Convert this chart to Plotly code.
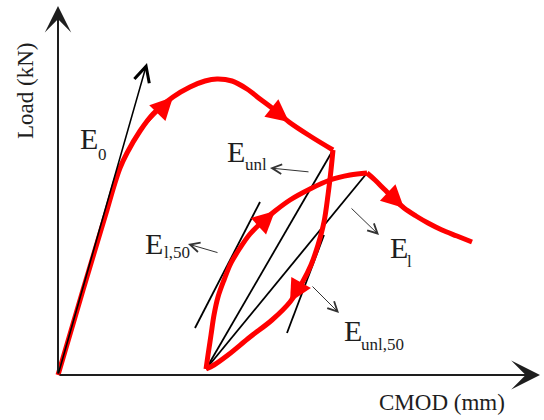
import plotly.graph_objects as go

# ---------------- data (schematic units: CMOD, Load) ----------------
# monotonic loading up to first unloading point
env_x = [0.00, 0.25, 0.49, 0.56, 0.62, 0.69, 0.82, 0.95, 1.15, 1.32, 1.47, 1.59,
         1.74, 1.89, 2.02, 2.14, 2.31, 2.52, 2.75]
env_y = [0.00, 0.85, 1.65, 1.89, 2.07, 2.22, 2.44, 2.61, 2.78, 2.88, 2.94, 2.96,
         2.94, 2.86, 2.76, 2.67, 2.53, 2.39, 2.25]
# unloading branch
unl_x = [2.75, 2.73, 2.70, 2.66, 2.60, 2.53, 2.44, 2.32, 2.14, 1.92, 1.70, 1.56, 1.48]
unl_y = [2.25, 2.05, 1.80, 1.53, 1.30, 1.10, 0.92, 0.73, 0.55, 0.38, 0.20, 0.10, 0.06]
# reloading branch
rel_x = [1.48, 1.50, 1.53, 1.56, 1.60, 1.66, 1.73, 1.82, 1.92, 2.04, 2.17, 2.32,
         2.52, 2.72, 2.92, 3.09]
rel_y = [0.06, 0.20, 0.40, 0.60, 0.78, 0.95, 1.12, 1.27, 1.41, 1.53, 1.64, 1.75,
         1.86, 1.95, 2.00, 2.02]
# post-peak softening
post_x = [3.09, 3.17, 3.26, 3.36, 3.46, 3.58, 3.70, 3.84, 3.99, 4.14]
post_y = [2.02, 1.95, 1.86, 1.76, 1.67, 1.59, 1.52, 1.45, 1.39, 1.33]

# stiffness lines
e0_x = [0.00, 0.89]
e0_y = [0.00, 3.12]
el50_x = [1.37, 2.02]
el50_y = [0.47, 1.73]
eunl50_x = [2.29, 2.66]
eunl50_y = [0.42, 1.40]

# labels: main letter, subscript, letter pos, subscript pos
labels = [
    ("E", "0",      (0.20, 2.37), (0.38, 2.21)),
    ("E", "unl",    (1.67, 2.24), (1.85, 2.11)),
    ("E", "l,50",   (0.85, 1.32), (1.04, 1.23)),
    ("E", "l",      (3.30, 1.28), (3.47, 1.14)),
    ("E", "unl,50", (2.84, 0.45), (3.01, 0.31)),
]
# pointer arrows (tail -> head)
pointers = [
    ((2.52, 2.03), (2.12, 2.07)),
    ((1.61, 1.22), (1.30, 1.31)),
    ((2.92, 1.68), (3.21, 1.40)),
    ((2.53, 0.90), (2.81, 0.62)),
]
# red direction arrows: (segment, index)
dir_arrows = [("env", 8), ("env", 16), ("unl", 7), ("rel", 10), ("post", 4)]

x_label = "CMOD (mm)"
y_label = "Load (kN)"
x_range = [-0.58, 4.86]
y_range = [-0.45, 3.75]
axis_x_end = 4.82
axis_y_end = 3.69

RED = "#ff0000"
INK = "#1e1e1e"
FONT = "Liberation Serif, Times New Roman, serif"

segs = {"env": (env_x, env_y), "unl": (unl_x, unl_y),
        "rel": (rel_x, rel_y), "post": (post_x, post_y)}

fig = go.Figure()

# black stiffness lines
black_lines = [
    (el50_x, el50_y),
    (eunl50_x, eunl50_y),
    ([unl_x[-1], unl_x[0]], [unl_y[-1], unl_y[0]]),   # E_unl secant
    ([rel_x[0], rel_x[-1]], [rel_y[0], rel_y[-1]]),   # E_l secant
]
for lx, ly in black_lines:
    fig.add_trace(go.Scatter(x=lx, y=ly, mode="lines",
                             line=dict(color="black", width=1.8),
                             hoverinfo="skip"))

# red curve
for key in ["env", "unl", "rel", "post"]:
    sx, sy = segs[key]
    fig.add_trace(go.Scatter(x=sx, y=sy, mode="lines",
                             line=dict(color=RED, width=5, shape="spline", smoothing=1.0),
                             hoverinfo="skip"))

annotations = []

# red direction arrowheads (along the curve)
for key, i in dir_arrows:
    sx, sy = segs[key]
    annotations.append(dict(x=sx[i], y=sy[i], ax=sx[i - 2], ay=sy[i - 2],
                            xref="x", yref="y", axref="x", ayref="y",
                            showarrow=True, arrowhead=2, arrowsize=4.5, arrowwidth=1,
                            arrowcolor=RED, standoff=0, text=""))

# axes with arrowheads
annotations.append(dict(x=axis_x_end, y=0, ax=0, ay=0, xref="x", yref="y",
                        axref="x", ayref="y", showarrow=True, arrowhead=3,
                        arrowsize=2.4, arrowwidth=2, arrowcolor=INK, standoff=0, text=""))
annotations.append(dict(x=0, y=axis_y_end, ax=0, ay=0, xref="x", yref="y",
                        axref="x", ayref="y", showarrow=True, arrowhead=3,
                        arrowsize=2.2, arrowwidth=2, arrowcolor=INK, standoff=0, text=""))

# E0 tangent arrow
annotations.append(dict(x=e0_x[1], y=e0_y[1], ax=e0_x[0], ay=e0_y[0], xref="x", yref="y",
                        axref="x", ayref="y", showarrow=True, arrowhead=5,
                        arrowsize=1.9, arrowwidth=1.6, arrowcolor="black", standoff=0, text=""))

# pointer arrows
for (tx, ty), (hx, hy) in pointers:
    annotations.append(dict(x=hx, y=hy, ax=tx, ay=ty, xref="x", yref="y",
                            axref="x", ayref="y", showarrow=True, arrowhead=5,
                            arrowsize=1.9, arrowwidth=1, arrowcolor="#333333",
                            standoff=0, text=""))

# labels
for main, sub, (mx, my), (sx_, sy_) in labels:
    annotations.append(dict(x=mx, y=my, xref="x", yref="y", text=main, showarrow=False,
                            xanchor="left", yanchor="middle",
                            font=dict(family=FONT, size=30, color=INK)))
    annotations.append(dict(x=sx_, y=sy_, xref="x", yref="y", text=sub, showarrow=False,
                            xanchor="left", yanchor="middle",
                            font=dict(family=FONT, size=17, color=INK)))

# axis titles
annotations.append(dict(x=3.84, y=-0.27, xref="x", yref="y", text=x_label, showarrow=False,
                        xanchor="center", yanchor="middle",
                        font=dict(family=FONT, size=23, color=INK)))
annotations.append(dict(x=-0.33, y=2.84, xref="x", yref="y", text=y_label, showarrow=False,
                        xanchor="center", yanchor="middle", textangle=-90,
                        font=dict(family=FONT, size=23, color=INK)))

fig.update_layout(
    width=544, height=420,
    margin=dict(l=0, r=0, t=0, b=0),
    paper_bgcolor="white", plot_bgcolor="white",
    showlegend=False,
    xaxis=dict(range=x_range, visible=False, fixedrange=True),
    yaxis=dict(range=y_range, visible=False, fixedrange=True),
    annotations=annotations,
)

fig.write_html("out.html", config={"displayModeBar": False},
               post_script="document.body.style.margin='0';")
